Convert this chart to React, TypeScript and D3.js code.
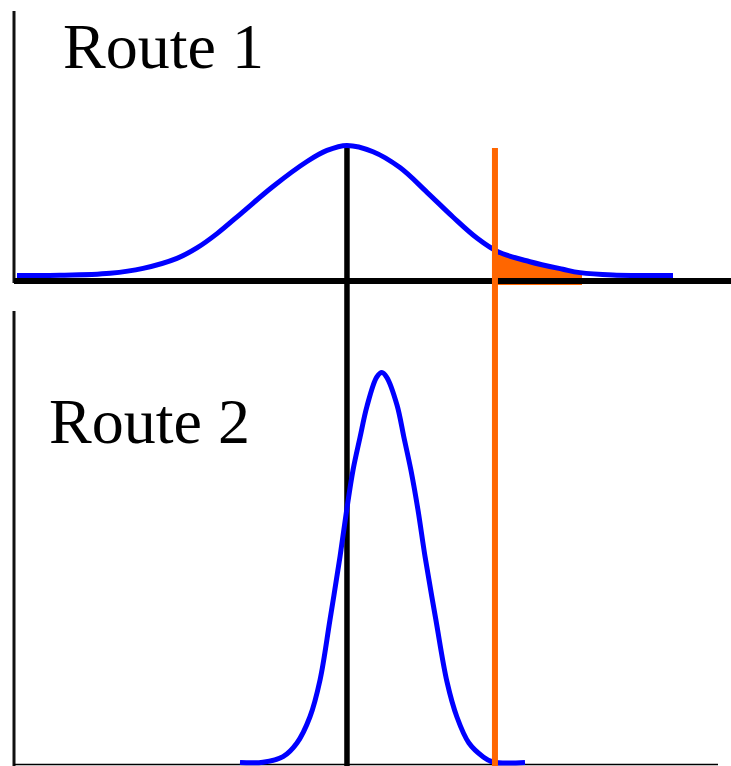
import React from "react";
import * as d3 from "d3";

// Route 1: wide distribution (x in minutes, y relative density)
const route1X = [7.7, 10.61, 13.99, 16.22, 18.51, 19.86, 21.22, 22.97, 25.0, 27.3, 28.65, 30.0, 31.76, 33.58, 35.41, 37.16, 38.78, 40.2, 42.36, 44.59, 45.74, 47.97, 52.03];
const route1Y = [0, 0.001, 0.017, 0.055, 0.132, 0.212, 0.322, 0.49, 0.685, 0.877, 0.962, 1.0, 0.952, 0.83, 0.64, 0.45, 0.288, 0.183, 0.106, 0.048, 0.022, 0.004, 0];

// Route 2: narrow distribution
const route2X = [22.77, 24.32, 25.68, 26.62, 27.5, 28.18, 28.85, 29.53, 29.98, 30.41, 30.88, 31.35, 32.01, 32.36, 32.68, 33.38, 33.85, 34.32, 34.8, 35.27, 36.01, 36.76, 37.43, 38.24, 39.19, 39.86, 42.03];
const route2Y = [0, 0.002, 0.045, 0.15, 0.352, 0.635, 1.096, 1.583, 1.942, 2.25, 2.5, 2.74, 2.965, 3.0, 2.965, 2.75, 2.5, 2.25, 1.942, 1.588, 1.096, 0.62, 0.35, 0.15, 0.045, 0.004, 0];

const meanValue = 30;
const thresholdValue = 40;
const tailEnd = 45.88;
const labels = ["Route 1", "Route 2"];

const BLUE = "#0000ff";
const ORANGE = "#ff6600";
const FONT = "'Liberation Serif', 'Times New Roman', serif";

export default function App() {
  const W = 731;
  const H = 766;
  const x = d3.scaleLinear().domain([7.5, 55.95]).range([14, 731]);
  const yTop = d3.scaleLinear().domain([0, 1]).range([275.5, 145.5]);
  const yBot = d3.scaleLinear().domain([0, 3]).range([762.5, 372.5]);

  const top = route1X.map((v, i) => [v, route1Y[i]] as [number, number]);
  const bot = route2X.map((v, i) => [v, route2Y[i]] as [number, number]);

  const curve = d3.curveCatmullRom.alpha(0.5);
  const lineTop = d3
    .line<[number, number]>()
    .x((d) => x(d[0]))
    .y((d) => yTop(d[1]))
    .curve(curve);
  const lineBot = d3
    .line<[number, number]>()
    .x((d) => x(d[0]))
    .y((d) => yBot(d[1]))
    .curve(curve);
  const areaTop = d3
    .area<[number, number]>()
    .x((d) => x(d[0]))
    .y0(yTop(-0.073))
    .y1((d) => yTop(d[1]))
    .curve(curve);

  const left = x.range()[0];
  const right = x.range()[1];

  return (
    <svg
      width={W}
      height={H}
      style={{ position: "absolute", left: 0, top: 0, display: "block", background: "#fff" }}
    >
      <defs>
        <clipPath id="tailClip">
          <rect x={x(thresholdValue)} y={0} width={x(tailEnd) - x(thresholdValue)} height={H} />
        </clipPath>
      </defs>
      <rect width={W} height={H} fill="#fff" />
      {/* orange tail */}
      <path d={areaTop(top) || ""} fill={ORANGE} clipPath="url(#tailClip)" />

      {/* axes */}
      <line x1={left} x2={left} y1={11} y2={283} stroke="#111" strokeWidth={3} />
      <line x1={left} x2={right} y1={yTop(-0.042)} y2={yTop(-0.042)} stroke="#000" strokeWidth={6} />
      <line x1={left} x2={left} y1={311} y2={H} stroke="#111" strokeWidth={3} />
      <line x1={left} x2={718} y1={764.5} y2={764.5} stroke="#000" strokeWidth={1.5} />

      {/* mean line */}
      <line x1={x(meanValue)} x2={x(meanValue)} y1={yTop(0.99)} y2={H} stroke="#000" strokeWidth={5.5} />

      {/* curves */}
      <path d={lineTop(top) || ""} fill="none" stroke={BLUE} strokeWidth={5} />
      <path d={lineBot(bot) || ""} fill="none" stroke={BLUE} strokeWidth={5} />

      {/* threshold line */}
      <line x1={x(thresholdValue)} x2={x(thresholdValue)} y1={148} y2={H} stroke={ORANGE} strokeWidth={6} />

      <text x={63} y={68} fontFamily={FONT} fontSize={64} fill="#000">
        {labels[0]}
      </text>
      <text x={49} y={443} fontFamily={FONT} fontSize={64} fill="#000">
        {labels[1]}
      </text>
    </svg>
  );
}
